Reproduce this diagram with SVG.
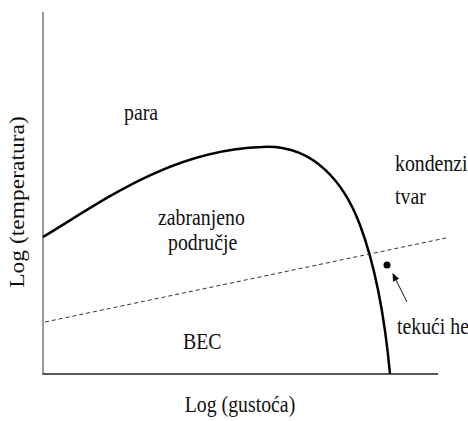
<svg xmlns="http://www.w3.org/2000/svg" width="468" height="421" viewBox="0 0 468 421">
<defs>
<style>
.t{font-family:"Liberation Serif","Times New Roman",serif;font-size:22.5px;fill:#111}
</style>
<marker id="ah" markerWidth="8" markerHeight="8" refX="7" refY="4" orient="auto" markerUnits="userSpaceOnUse">
<path d="M0,0.5 L8,4 L0,7.5 z" fill="#111"/>
</marker>
</defs>
<rect width="468" height="421" fill="#fff"/>
<g id="axes" fill="none">
<path d="M43,12 V374" stroke="#777" stroke-width="1.5"/>
<path d="M42.5,374 H438" stroke="#222" stroke-width="1.5"/>
</g>
<g id="connectors">
<path id="coexistence" d="M43,237 C100,203 170,150 262,147 C315,144 345,185 360,225 C375,265 385,320 390,374" fill="none" stroke="#000" stroke-width="2.5"/>
<path id="bec-line" d="M45,322 L446,238" stroke="#333" stroke-width="1" stroke-dasharray="4,3" fill="none"/>
<path id="arrow" d="M407,302 L393,274" stroke="#111" stroke-width="1" marker-end="url(#ah)"/>
</g>
<g id="helium-point"><circle cx="387" cy="265" r="3.5" fill="#000"/></g>
<g font-family="Liberation Serif, Times New Roman, serif">
<g id="para"><text class="t" transform="translate(124,120) scale(0.88,1)">para</text></g>
<g id="forbidden"><text class="t" transform="translate(158,225) scale(0.88,1)">zabranjeno</text><text class="t" transform="translate(168,250) scale(0.88,1)">područje</text></g>
<g id="bec"><text class="t" transform="translate(183,349) scale(0.88,1)">BEC</text></g>
<g id="condensed"><text class="t" transform="translate(395,171) scale(0.88,1)">kondenzi</text><text class="t" transform="translate(395,204) scale(0.88,1)">tvar</text></g>
<g id="liquid-he"><text class="t" transform="translate(397,334) scale(0.88,1)">tekući he</text></g>
<g id="xlabel"><text class="t" text-anchor="middle" transform="translate(240,412) scale(0.88,1)">Log (gustoća)</text></g>
<g id="ylabel"><text class="t" text-anchor="middle" style="font-size:23.5px" transform="translate(24,202) rotate(-90) scale(1,0.88)">Log (temperatura)</text></g>
</g>
</svg>
